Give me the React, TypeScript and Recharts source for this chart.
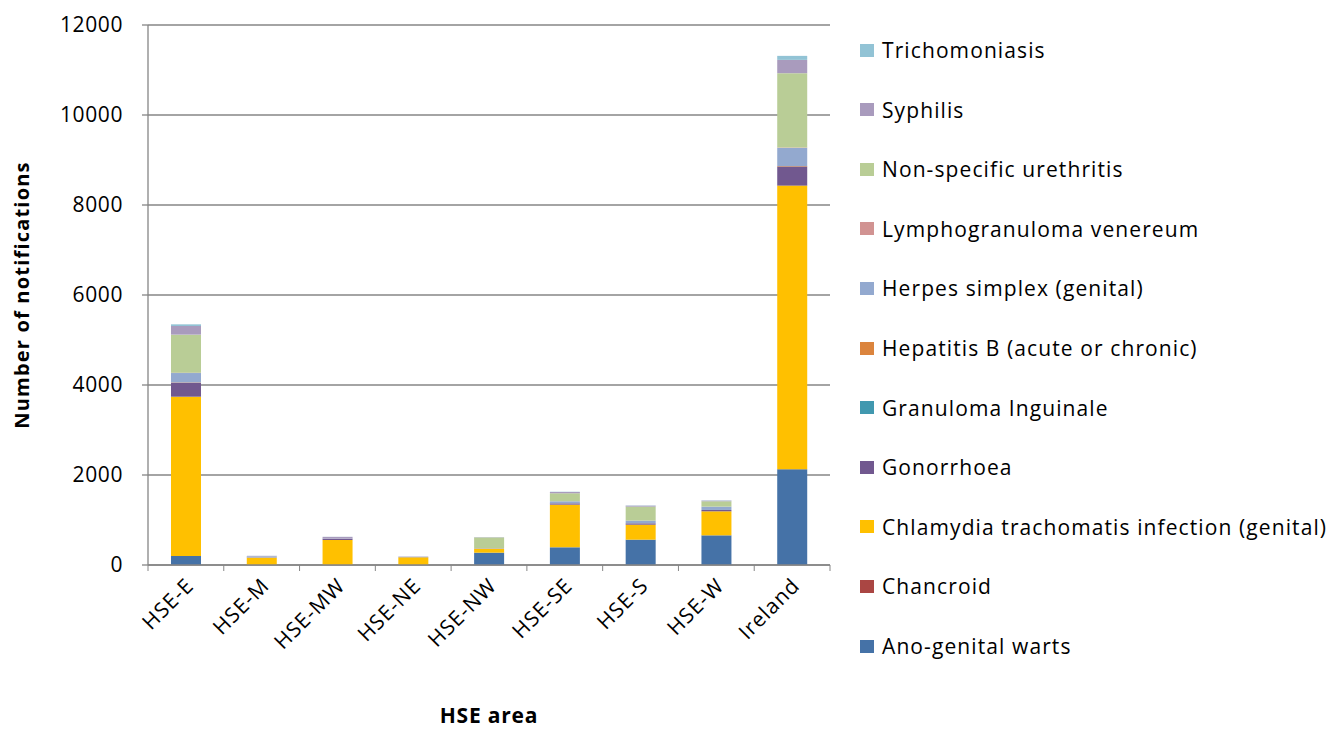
import React from 'react';
import { BarChart, Bar, XAxis, YAxis, CartesianGrid, Label } from 'recharts';

// values (number of notifications)
const areas = ['HSE-E', 'HSE-M', 'HSE-MW', 'HSE-NE', 'HSE-NW', 'HSE-SE', 'HSE-S', 'HSE-W', 'Ireland'];
const wartsValues = [200, 0, 0, 0, 274, 393, 563, 659, 2126];
const chancroidValues = [0, 0, 0, 0, 0, 0, 0, 0, 1];
const chlamydiaValues = [3540, 163, 556, 171, 89, 948, 333, 534, 6304];
const gonorrhoeaValues = [312, 5, 29, 3, 5, 29, 30, 29, 425];
const granulomaValues = [0, 0, 0, 0, 0, 0, 0, 0, 1];
const hepatitisBValues = [6, 0, 0, 0, 0, 1, 1, 1, 10];
const herpesValues = [208, 25, 5, 5, 5, 45, 59, 74, 400];
const lgvValues = [8, 0, 0, 0, 0, 0, 0, 0, 10];
const nsuValues = [845, 0, 0, 0, 240, 178, 311, 119, 1652];
const syphilisValues = [192, 10, 35, 8, 5, 29, 22, 15, 296];
const trichValues = [37, 2, 2, 2, 2, 5, 5, 5, 89];
const yTicks = [0, 2000, 4000, 6000, 8000, 10000, 12000];

const series = [
  { key: 'warts', name: 'Ano-genital warts', color: '#4572A7', values: wartsValues },
  { key: 'chancroid', name: 'Chancroid', color: '#AA4643', values: chancroidValues },
  { key: 'chlamydia', name: 'Chlamydia trachomatis infection (genital)', color: '#FFC000', values: chlamydiaValues },
  { key: 'gonorrhoea', name: 'Gonorrhoea', color: '#71588F', values: gonorrhoeaValues },
  { key: 'granuloma', name: 'Granuloma Inguinale', color: '#4198AF', values: granulomaValues },
  { key: 'hepB', name: 'Hepatitis B (acute or chronic)', color: '#DB843D', values: hepatitisBValues },
  { key: 'herpes', name: 'Herpes simplex (genital)', color: '#93A9CF', values: herpesValues },
  { key: 'lgv', name: 'Lymphogranuloma venereum', color: '#D19392', values: lgvValues },
  { key: 'nsu', name: 'Non-specific urethritis', color: '#B9CD96', values: nsuValues },
  { key: 'syphilis', name: 'Syphilis', color: '#A99BBD', values: syphilisValues },
  { key: 'trich', name: 'Trichomoniasis', color: '#92C3D5', values: trichValues },
];

const data = areas.map((area, i) => {
  const row: Record<string, string | number> = { area };
  series.forEach((s) => (row[s.key] = s.values[i]));
  return row;
});

const FONT = '"Open Sans", sans-serif';
const AXIS = '#868686';
const PLOT_LEFT = 148;
const PLOT_RIGHT = 830;
const PLOT_TOP = 25;
const PLOT_BOTTOM = 565;
const band = (PLOT_RIGHT - PLOT_LEFT) / areas.length;

const AreaTick = (props: any) => {
  const { x, payload, index } = props;
  const ax = x + 9;
  const ay = PLOT_BOTTOM + 22;
  return (
    <g>
      <line x1={x - band / 2} x2={x - band / 2} y1={PLOT_BOTTOM} y2={PLOT_BOTTOM + 6} stroke={AXIS} />
      {index === areas.length - 1 && (
        <line x1={x + band / 2} x2={x + band / 2} y1={PLOT_BOTTOM} y2={PLOT_BOTTOM + 6} stroke={AXIS} />
      )}
      <text
        x={ax}
        y={ay}
        transform={`rotate(-45 ${ax} ${ay})`}
        textAnchor="end"
        fontFamily={FONT}
        fontSize={21}
        letterSpacing={1}
        fill="#000"
      >
        {payload.value}
      </text>
    </g>
  );
};

const App = () => {
  const legendItems = [...series].reverse();
  return (
    <div style={{ position: 'absolute', left: 0, top: 0, width: 1332, height: 730, background: '#fff' }}>
      <BarChart
        width={1332}
        height={730}
        data={data}
        margin={{ top: PLOT_TOP, right: 1332 - PLOT_RIGHT, left: 0, bottom: 0 }}
        barSize={30}
      >
        <CartesianGrid vertical={false} stroke={AXIS} strokeWidth={1.3} />
        <XAxis
          dataKey="area"
          interval={0}
          height={730 - PLOT_BOTTOM}
          tickLine={false}
          axisLine={{ stroke: AXIS, strokeWidth: 1.3 }}
          tick={<AreaTick />}
        >
          <Label
            content={() => (
              <text
                x={(PLOT_LEFT + PLOT_RIGHT) / 2}
                y={723}
                textAnchor="middle"
                fontFamily={FONT}
                fontWeight="bold"
                fontSize={21}
                letterSpacing={0.8}
                fill="#000"
              >
                HSE area
              </text>
            )}
          />
        </XAxis>
        <YAxis
          width={PLOT_LEFT}
          domain={[0, 12000]}
          ticks={yTicks}
          interval={0}
          tickSize={6}
          tickMargin={19}
          tickLine={{ stroke: AXIS, strokeWidth: 1.3 }}
          axisLine={{ stroke: AXIS, strokeWidth: 1.3 }}
          tick={{ fontFamily: FONT, fontSize: 21, fill: '#000', letterSpacing: 0.6 }}
        >
          <Label
            content={() => (
              <text
                x={29}
                y={(PLOT_TOP + PLOT_BOTTOM) / 2}
                transform={`rotate(-90 29 ${(PLOT_TOP + PLOT_BOTTOM) / 2})`}
                textAnchor="middle"
                fontFamily={FONT}
                fontWeight="bold"
                fontSize={20}
                letterSpacing={1.2}
                fill="#000"
              >
                Number of notifications
              </text>
            )}
          />
        </YAxis>
        {series.map((s) => (
          <Bar key={s.key} dataKey={s.key} name={s.name} stackId="a" fill={s.color} isAnimationActive={false} />
        ))}
      </BarChart>
      <div style={{ position: 'absolute', left: 860, top: 50, fontFamily: FONT, fontSize: 21, letterSpacing: 1.1, color: '#000' }}>
        {legendItems.map((s, i) => (
          <div
            key={s.key}
            style={{ position: 'absolute', top: i * 59.6, left: 0, display: 'flex', alignItems: 'center', whiteSpace: 'nowrap', transform: 'translateY(-50%)' }}
          >
            <span style={{ display: 'inline-block', width: 14, height: 13, background: s.color, marginRight: 8 }} />
            <span>{s.name}</span>
          </div>
        ))}
      </div>
    </div>
  );
};

export default App;
